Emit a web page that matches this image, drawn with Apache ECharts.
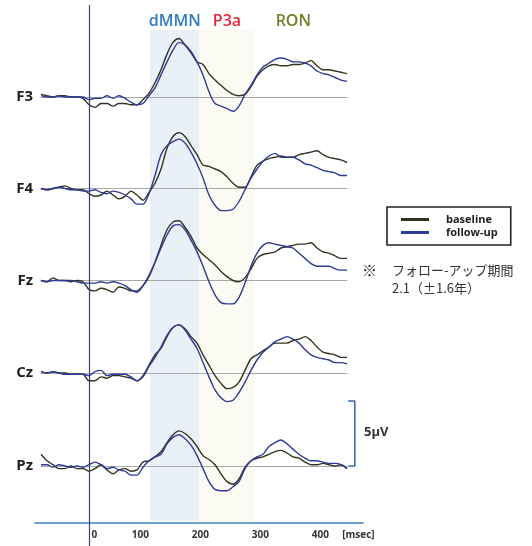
<!DOCTYPE html>
<html><head><meta charset="utf-8">
<script src="https://cdn.jsdelivr.net/npm/echarts@6/dist/echarts.min.js"></script>
<style>html,body{margin:0;padding:0;background:#fff}#c{width:532px;height:546px}</style>
</head><body><div id="c"></div>
<script>
// ---- data ----
const times = [-80,-70,-60,-50,-40,-30,-20,-10,0,10,20,30,40,50,60,70,80,90,100,110,120,130,140,150,160,170,180,190,200,210,220,230,240,250,260,270,280,290,300,310,320,330,340,350,360,370,380,390,400,410,420,430];
const channels = ['F3','F4','Fz','Cz','Pz'];
const seriesNames = ['baseline','follow-up'];

const f3Baseline = [-0.2,-0.1,0.0,-0.1,-0.1,0.0,0.0,0.1, 0.6,0.8,0.5,0.5,0.7,0.5,0.5,0.6,0.6,0.2, -0.3,-1.1,-2.1,-3.3,-4.2,-4.5,-4.0,-3.4,-2.7,-2.5, -1.8,-1.3,-0.9,-0.5,-0.2,-0.1,-0.2,-0.8,-1.6,-2.1, -2.4,-2.5,-2.4,-2.4,-2.5,-2.5,-2.6,-2.8,-2.4,-2.1, -2.1,-2.0,-1.9,-1.8];
const f3Followup = [-0.1,0.0,0.0,-0.1,0.0,0.0,0.0,0.0, 0.2,0.1,0.1,-0.1,0.1,-0.1,0.1,0.4,0.6,0.5, -0.1,-0.7,-1.7,-2.7,-3.6,-4.2,-4.0,-3.5,-2.7,-1.7, -0.4,0.5,0.7,0.9,1.1,0.7,-0.2,-0.9,-1.7,-2.3, -2.6,-2.9,-3.0,-2.9,-2.7,-2.7,-2.6,-2.4,-2.0,-1.8, -1.7,-1.5,-1.3,-1.2];
const f4Baseline = [0.0,0.1,0.0,-0.1,-0.2,0.0,0.1,0.1, 0.4,0.6,0.5,0.2,0.5,0.8,0.6,0.2,0.5,0.9, 0.3,-0.4,-1.5,-3.1,-4.0,-4.3,-4.0,-3.3,-2.6,-1.8, -1.7,-1.5,-1.3,-0.9,-0.4,-0.1,-0.1,-0.9,-1.8,-2.1, -2.3,-2.4,-2.5,-2.4,-2.4,-2.6,-2.7,-2.8,-2.9,-2.6, -2.4,-2.3,-2.2,-2.0];
const f4Followup = [0.0,0.1,0.0,-0.1,0.0,0.1,0.1,0.2, 0.2,0.1,0.3,0.4,0.2,0.3,0.5,0.8,1.2,1.2, 0.4,-1.0,-2.6,-3.3,-3.6,-3.8,-3.5,-2.8,-1.9,-0.8, 0.5,1.3,1.7,1.7,1.6,1.0,0.1,-0.8,-1.5,-2.1, -2.5,-2.7,-2.4,-2.4,-2.4,-2.2,-1.9,-1.8,-1.6,-1.4, -1.3,-1.2,-1.0,-1.0];
const fzBaseline = [0.0,0.1,-0.2,0.0,0.0,0.1,0.0,0.1, 0.7,0.8,0.6,0.7,0.9,0.5,0.6,0.8,0.8,0.4, -0.3,-1.4,-2.7,-3.9,-4.5,-4.6,-4.1,-3.4,-2.5,-2.0, -1.6,-1.2,-0.7,-0.3,0.0,0.1,-0.2,-0.9,-1.7,-2.0, -2.1,-2.2,-2.5,-2.6,-2.7,-2.8,-2.8,-2.9,-2.5,-2.2, -2.1,-1.9,-1.7,-1.7];
const fzFollowup = [0.0,0.1,0.0,0.0,0.0,0.0,0.1,0.2, 0.2,0.2,0.1,0.2,0.1,0.2,0.4,0.7,0.9,0.4, -0.4,-1.4,-2.5,-3.5,-4.2,-4.3,-3.9,-3.1,-2.2,-1.1, 0.1,1.1,1.7,1.8,1.8,1.3,0.2,-1.1,-2.1,-2.7, -2.9,-2.8,-2.7,-2.6,-2.5,-2.1,-1.7,-1.3,-1.1,-1.1, -1.1,-0.9,-0.8,-0.8];
const czBaseline = [-0.1,0.0,-0.1,0.0,0.0,0.1,0.1,0.1, 0.6,0.6,0.3,0.4,0.2,0.2,0.3,0.4,0.6,0.2, -0.6,-1.4,-1.9,-2.8,-3.5,-3.7,-3.4,-2.8,-2.3,-1.4, -0.6,0.2,0.8,1.2,1.1,0.7,-0.2,-1.1,-1.4,-1.7, -2.0,-2.3,-2.3,-2.3,-2.5,-2.6,-2.8,-2.5,-2.0,-1.6, -1.5,-1.4,-1.2,-1.2];
const czFollowup = [-0.1,0.0,-0.1,0.0,0.1,0.1,0.1,0.1, 0.2,-0.1,-0.2,0.2,0.1,0.1,0.1,0.3,0.6,0.3, -0.5,-1.2,-2.0,-2.9,-3.5,-3.7,-3.3,-2.6,-1.9,-0.8, 0.3,1.3,1.9,2.2,2.1,1.5,0.7,-0.2,-1.0,-1.6, -2.0,-2.4,-2.6,-2.8,-2.6,-2.3,-1.8,-1.4,-1.2,-1.1, -1.0,-0.8,-0.8,-0.7];
const pzBaseline = [-0.9,-0.4,-0.1,0.2,0.2,0.0,0.2,0.2, 0.4,0.2,-0.1,0.3,0.6,0.3,0.2,0.4,0.3,-0.3, -0.4,-0.7,-1.1,-1.8,-2.4,-2.7,-2.5,-2.1,-1.5,-0.8, -0.5,-0.1,0.6,1.2,1.4,1.0,0.1,-0.4,-0.6,-0.7, -0.9,-1.1,-1.2,-1.0,-0.7,-0.6,-0.3,-0.1,-0.1,-0.2, -0.1,0.0,-0.1,0.2];
const pzFollowup = [-0.1,-0.1,0.1,-0.1,0.0,0.1,0.0,0.1, -0.1,-0.3,-0.1,0.2,0.1,0.3,0.4,0.7,0.7,0.1, -0.4,-0.7,-0.9,-1.7,-2.2,-2.4,-2.1,-1.6,-0.8,0.2, 1.2,1.8,1.9,1.9,1.6,1.2,0.2,-0.4,-0.7,-0.9, -1.5,-1.8,-2.0,-1.7,-1.3,-0.9,-0.6,-0.4,-0.4,-0.3, -0.2,-0.2,-0.1,0.2];

const channelData = [[f3Baseline,f3Followup],[f4Baseline,f4Followup],[fzBaseline,fzFollowup],[czBaseline,czFollowup],[pzBaseline,pzFollowup]];

const xTickValues = [100,200,300,400];
const componentLabels = ['dMMN','P3a','RON'];
const componentWindows = [[102,184],[184,276],[276,405]];
const scaleBarMicroV = 5;
const scaleBarTime = 443;
const scaleBarTick = 11;
const noteLines = ['フォロー-アップ期間','2.1（±1.6年）'];

// ---- layout / style ----
const FONT = '"Open Sans", "Liberation Sans", sans-serif';
const JP = '"Noto Sans CJK JP", sans-serif';
const X_MIN = -80, X_MAX = 430;
const PX_PER_MS = 0.6, ZERO_X = 89;
const gridLeft = ZERO_X + X_MIN * PX_PER_MS;
const gridWidth = (X_MAX - X_MIN) * PX_PER_MS;
const PX_PER_UV = 13;
const baselineY = [97, 188.5, 280.5, 373, 466];
const Y_MIN = -6, Y_MAX = 4;
const colors = ['#34331f', '#2c3b98'];
const shadeColors = ['#e9f0f8', '#fbfbf4', 'rgba(0,0,0,0)'];
const labelColors = ['#2f7cc0', '#e2283a', '#6e8126'];
const axisBlue = '#3d80c4';

const grids = [], xAxes = [], yAxes = [], series = [];
const hiddenX = (gi, min, max) => ({type:'value', gridIndex:gi, min:min, max:max, show:false});
const hiddenY = (gi, min, max) => ({type:'value', gridIndex:gi, min:min, max:max, show:false});

// grid 0: shading
grids.push({left:gridLeft, top:30, width:gridWidth, height:491});
xAxes.push(hiddenX(0, X_MIN, X_MAX)); yAxes.push(hiddenY(0, 0, 1));
series.push({type:'line', xAxisIndex:0, yAxisIndex:0, data:[], z:0, silent:true,
  markArea:{silent:true, data: componentWindows.map((w,i)=>[
    {name:componentLabels[i], xAxis:w[0], itemStyle:{color:shadeColors[i]},
     label:{show:true, position:'top', distance:1, color:labelColors[i], fontFamily:FONT, fontWeight:600, fontSize:16}},
    {xAxis:w[1]}])}});

// grid 1: zero line
grids.push({left:gridLeft, top:5, width:gridWidth, height:541});
xAxes.push(hiddenX(1, X_MIN, X_MAX)); yAxes.push(hiddenY(1, 0, 1));
series.push({type:'line', xAxisIndex:1, yAxisIndex:1, data:[], z:1, silent:true,
  markLine:{silent:true, symbol:'none', label:{show:false}, lineStyle:{color:'#3c3c7a', width:1.2, type:'solid'},
    data:[{xAxis:0}]}});

// channel grids
channels.forEach((ch, i) => {
  const gi = 2 + i;
  grids.push({left:gridLeft, top:baselineY[i] + Y_MIN * PX_PER_UV, width:gridWidth, height:(Y_MAX - Y_MIN) * PX_PER_UV});
  xAxes.push({type:'value', gridIndex:gi, min:X_MIN, max:X_MAX, z:1,
    axisLine:{show:true, onZero:true, lineStyle:{color:'#a8a8a8', width:1}},
    axisTick:{show:false}, axisLabel:{show:false}, splitLine:{show:false}});
  yAxes.push({type:'value', gridIndex:gi, min:Y_MIN, max:Y_MAX, inverse:true, z:1,
    axisLine:{show:false}, axisTick:{show:false}, splitLine:{show:false},
    axisLabel:{show:true, customValues:[0], formatter:()=>ch, margin:8, padding:[5,0,0,0],
      fontFamily:FONT, fontWeight:'bold', fontSize:15, color:'#1e1e1e'}});
  seriesNames.forEach((nm, k) => {
    series.push({name:nm, type:'line', xAxisIndex:gi, yAxisIndex:gi, showSymbol:false, smooth:0.3,
      z:2+k, silent:true, clip:false,
      data: times.map((t, j) => [t, channelData[i][k][j]]),
      lineStyle:{color:colors[k], width:1.4}, itemStyle:{color:colors[k]}});
  });
});

// grid 7: scale bar (same vertical scale as Pz, wider time range)
const SB_MAX = 460;
grids.push({left:gridLeft, top:baselineY[4] + Y_MIN * PX_PER_UV, width:(SB_MAX - X_MIN) * PX_PER_MS, height:(Y_MAX - Y_MIN) * PX_PER_UV});
xAxes.push(hiddenX(7, X_MIN, SB_MAX));
yAxes.push({type:'value', gridIndex:7, min:Y_MIN, max:Y_MAX, inverse:true, show:false});
series.push({type:'line', xAxisIndex:7, yAxisIndex:7, showSymbol:false, silent:true, z:3,
  data:[[scaleBarTime - scaleBarTick, 0],[scaleBarTime, 0],[scaleBarTime, -scaleBarMicroV],[scaleBarTime - scaleBarTick, -scaleBarMicroV]],
  lineStyle:{color:'#3a6aa8', width:1.6}});

// bottom axis grids
const axMin = (35 - ZERO_X) / PX_PER_MS, axMax = (363 - ZERO_X) / PX_PER_MS;
grids.push({left:35, top:480, width:328, height:43});
xAxes.push({type:'value', gridIndex:8, min:axMin, max:axMax,
  axisLine:{show:true, onZero:false, lineStyle:{color:axisBlue, width:1.6}},
  axisTick:{show:false}, splitLine:{show:false},
  axisLabel:{customValues:xTickValues, align:'right', margin:7, fontFamily:FONT, fontWeight:'bold', fontSize:10, color:'#333'}});
yAxes.push(hiddenY(8, 0, 1));
grids.push({left:35, top:480, width:328, height:43});
xAxes.push({type:'value', gridIndex:9, min:axMin, max:axMax,
  axisLine:{show:false}, axisTick:{show:false}, splitLine:{show:false},
  axisLabel:{customValues:[0, 422], align:'left', margin:7, formatter:v => v === 0 ? ' 0' : '[msec]',
    fontFamily:FONT, fontWeight:'bold', fontSize:10, color:'#333'}});
yAxes.push(hiddenY(9, 0, 1));

const option = {
  backgroundColor:'#ffffff',
  animation:false,
  grid:grids, xAxis:xAxes, yAxis:yAxes, series:series,
  legend:{data:seriesNames, selectedMode:false, orient:'vertical', left:387, top:207,
    icon:'rect', itemWidth:28, itemHeight:3, itemGap:2,
    padding:[7,13,7,14], borderColor:'#222', borderWidth:1.6, backgroundColor:'#fff',
    textStyle:{fontFamily:FONT, fontWeight:'bold', fontSize:11, color:'#222', padding:[0,0,0,12]}},
  graphic:[
    {type:'text', left:362, top:263, style:{text:'※', font:'15px ' + JP, fill:'#333'}},
    {type:'text', left:392, top:264, style:{text:noteLines[0], font:'13px ' + JP, fill:'#333'}},
    {type:'text', left:392, top:282, style:{text:noteLines[1], font:'13px ' + JP, fill:'#333'}},
    {type:'text', left:364, top:426, style:{text:scaleBarMicroV + 'μV', font:'bold 13px ' + FONT, fill:'#333'}}
  ]
};
const chart = echarts.init(document.getElementById('c'));
chart.setOption(option);
</script></body></html>
